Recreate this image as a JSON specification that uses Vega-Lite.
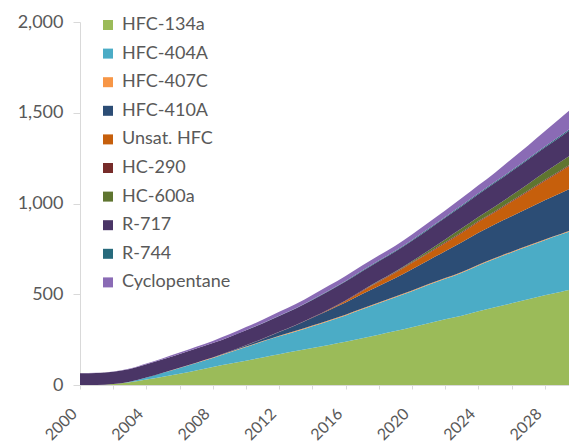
{
  "$schema": "https://vega.github.io/schema/vega-lite/v6.json",
  "autosize": {"type": "none"},
  "width": 489,
  "height": 363,
  "padding": {"left": 80, "top": 22, "right": 0, "bottom": 61},
  "background": "white",
  "title": {"text": "(metric tonnes).", "font": "Liberation Serif", "fontStyle": "italic", "fontWeight": "normal", "fontSize": 21, "color": "#000000", "baseline": "alphabetic", "dx": 129, "dy": 10, "offset": 7},
  "config": {"view": {"stroke": null}, "font": "Lato"},
  "data": {"values": [
    {"year": 2000, "HFC-134a": 0, "HFC-404A": 0, "HFC-407C": 0, "HFC-410A": 0, "Unsat HFC": 0, "HC-290": 0, "HC-600a": 0, "R-717": 65, "R-744": 0, "Cyclopentane": 0},
    {"year": 2001, "HFC-134a": 0, "HFC-404A": 0, "HFC-407C": 0, "HFC-410A": 0, "Unsat HFC": 0, "HC-290": 0, "HC-600a": 0, "R-717": 66, "R-744": 0, "Cyclopentane": 1},
    {"year": 2002, "HFC-134a": 5, "HFC-404A": 0, "HFC-407C": 0, "HFC-410A": 0, "Unsat HFC": 0, "HC-290": 0, "HC-600a": 0, "R-717": 68, "R-744": 0, "Cyclopentane": 2},
    {"year": 2003, "HFC-134a": 15, "HFC-404A": 3, "HFC-407C": 0, "HFC-410A": 0, "Unsat HFC": 0, "HC-290": 0, "HC-600a": 0, "R-717": 70, "R-744": 0, "Cyclopentane": 3},
    {"year": 2004, "HFC-134a": 30, "HFC-404A": 12, "HFC-407C": 0, "HFC-410A": 0, "Unsat HFC": 0, "HC-290": 0, "HC-600a": 0, "R-717": 72, "R-744": 0, "Cyclopentane": 5},
    {"year": 2005, "HFC-134a": 45, "HFC-404A": 22, "HFC-407C": 1, "HFC-410A": 0, "Unsat HFC": 0, "HC-290": 0, "HC-600a": 0, "R-717": 74, "R-744": 0, "Cyclopentane": 6},
    {"year": 2006, "HFC-134a": 62, "HFC-404A": 32, "HFC-407C": 1, "HFC-410A": 0, "Unsat HFC": 0, "HC-290": 0, "HC-600a": 0, "R-717": 76, "R-744": 0, "Cyclopentane": 8},
    {"year": 2007, "HFC-134a": 80, "HFC-404A": 41, "HFC-407C": 2, "HFC-410A": 0, "Unsat HFC": 0, "HC-290": 0, "HC-600a": 0, "R-717": 78, "R-744": 0, "Cyclopentane": 10},
    {"year": 2008, "HFC-134a": 99, "HFC-404A": 50, "HFC-407C": 2, "HFC-410A": 0, "Unsat HFC": 0, "HC-290": 0, "HC-600a": 0, "R-717": 80, "R-744": 0, "Cyclopentane": 12},
    {"year": 2009, "HFC-134a": 117, "HFC-404A": 62, "HFC-407C": 3, "HFC-410A": 2, "Unsat HFC": 0, "HC-290": 0, "HC-600a": 0, "R-717": 81, "R-744": 0, "Cyclopentane": 14},
    {"year": 2010, "HFC-134a": 134, "HFC-404A": 75, "HFC-407C": 3, "HFC-410A": 6, "Unsat HFC": 0, "HC-290": 1, "HC-600a": 0, "R-717": 82, "R-744": 1, "Cyclopentane": 17},
    {"year": 2011, "HFC-134a": 152, "HFC-404A": 87, "HFC-407C": 3, "HFC-410A": 12, "Unsat HFC": 0, "HC-290": 1, "HC-600a": 0, "R-717": 84, "R-744": 1, "Cyclopentane": 19},
    {"year": 2012, "HFC-134a": 170, "HFC-404A": 98, "HFC-407C": 4, "HFC-410A": 20, "Unsat HFC": 0, "HC-290": 2, "HC-600a": 0, "R-717": 86, "R-744": 2, "Cyclopentane": 21},
    {"year": 2013, "HFC-134a": 187, "HFC-404A": 108, "HFC-407C": 4, "HFC-410A": 30, "Unsat HFC": 0, "HC-290": 2, "HC-600a": 0, "R-717": 90, "R-744": 2, "Cyclopentane": 23},
    {"year": 2014, "HFC-134a": 204, "HFC-404A": 120, "HFC-407C": 4, "HFC-410A": 42, "Unsat HFC": 0, "HC-290": 3, "HC-600a": 0, "R-717": 95, "R-744": 3, "Cyclopentane": 25},
    {"year": 2015, "HFC-134a": 221, "HFC-404A": 132, "HFC-407C": 4, "HFC-410A": 55, "Unsat HFC": 3, "HC-290": 3, "HC-600a": 0, "R-717": 100, "R-744": 3, "Cyclopentane": 27},
    {"year": 2016, "HFC-134a": 238, "HFC-404A": 145, "HFC-407C": 4, "HFC-410A": 67, "Unsat HFC": 9, "HC-290": 3, "HC-600a": 0, "R-717": 104, "R-744": 3, "Cyclopentane": 28},
    {"year": 2017, "HFC-134a": 257, "HFC-404A": 160, "HFC-407C": 4, "HFC-410A": 80, "Unsat HFC": 16, "HC-290": 3, "HC-600a": 1, "R-717": 106, "R-744": 4, "Cyclopentane": 28},
    {"year": 2018, "HFC-134a": 277, "HFC-404A": 173, "HFC-407C": 4, "HFC-410A": 92, "Unsat HFC": 22, "HC-290": 4, "HC-600a": 2, "R-717": 108, "R-744": 4, "Cyclopentane": 28},
    {"year": 2019, "HFC-134a": 297, "HFC-404A": 186, "HFC-407C": 4, "HFC-410A": 103, "Unsat HFC": 28, "HC-290": 4, "HC-600a": 4, "R-717": 109, "R-744": 4, "Cyclopentane": 28},
    {"year": 2020, "HFC-134a": 318, "HFC-404A": 198, "HFC-407C": 4, "HFC-410A": 118, "Unsat HFC": 34, "HC-290": 4, "HC-600a": 6, "R-717": 113, "R-744": 4, "Cyclopentane": 30},
    {"year": 2021, "HFC-134a": 340, "HFC-404A": 212, "HFC-407C": 4, "HFC-410A": 132, "Unsat HFC": 38, "HC-290": 4, "HC-600a": 11, "R-717": 116, "R-744": 5, "Cyclopentane": 33},
    {"year": 2022, "HFC-134a": 362, "HFC-404A": 223, "HFC-407C": 4, "HFC-410A": 148, "Unsat HFC": 44, "HC-290": 5, "HC-600a": 16, "R-717": 119, "R-744": 5, "Cyclopentane": 36},
    {"year": 2023, "HFC-134a": 382, "HFC-404A": 237, "HFC-407C": 4, "HFC-410A": 164, "Unsat HFC": 51, "HC-290": 5, "HC-600a": 20, "R-717": 122, "R-744": 5, "Cyclopentane": 40},
    {"year": 2024, "HFC-134a": 406, "HFC-404A": 253, "HFC-407C": 4, "HFC-410A": 176, "Unsat HFC": 59, "HC-290": 5, "HC-600a": 23, "R-717": 125, "R-744": 5, "Cyclopentane": 44},
    {"year": 2025, "HFC-134a": 428, "HFC-404A": 268, "HFC-407C": 4, "HFC-410A": 186, "Unsat HFC": 66, "HC-290": 5, "HC-600a": 27, "R-717": 130, "R-744": 6, "Cyclopentane": 50},
    {"year": 2026, "HFC-134a": 450, "HFC-404A": 280, "HFC-407C": 4, "HFC-410A": 196, "Unsat HFC": 79, "HC-290": 6, "HC-600a": 30, "R-717": 132, "R-744": 6, "Cyclopentane": 62},
    {"year": 2027, "HFC-134a": 472, "HFC-404A": 292, "HFC-407C": 4, "HFC-410A": 206, "Unsat HFC": 92, "HC-290": 6, "HC-600a": 36, "R-717": 134, "R-744": 6, "Cyclopentane": 72},
    {"year": 2028, "HFC-134a": 494, "HFC-404A": 304, "HFC-407C": 4, "HFC-410A": 216, "Unsat HFC": 106, "HC-290": 6, "HC-600a": 42, "R-717": 136, "R-744": 6, "Cyclopentane": 84},
    {"year": 2029, "HFC-134a": 514, "HFC-404A": 316, "HFC-407C": 4, "HFC-410A": 225, "Unsat HFC": 120, "HC-290": 6, "HC-600a": 48, "R-717": 138, "R-744": 7, "Cyclopentane": 97},
    {"year": 2030, "HFC-134a": 535, "HFC-404A": 326, "HFC-407C": 4, "HFC-410A": 235, "Unsat HFC": 135, "HC-290": 6, "HC-600a": 52, "R-717": 143, "R-744": 7, "Cyclopentane": 110}
  ]},
  "transform": [
    {"fold": ["HFC-134a", "HFC-404A", "HFC-407C", "HFC-410A", "Unsat HFC", "HC-290", "HC-600a", "R-717", "R-744", "Cyclopentane"], "as": ["key", "value"]},
    {"calculate": "datum.key == 'Unsat HFC' ? 'Unsat. HFC' : datum.key", "as": "series"},
    {"calculate": "indexof(['HFC-134a','HFC-404A','HFC-407C','HFC-410A','Unsat. HFC','HC-290','HC-600a','R-717','R-744','Cyclopentane'], datum.series)", "as": "ord"}
  ],
  "mark": {"type": "area", "clip": true, "interpolate": "monotone"},
  "encoding": {
    "x": {"field": "year", "type": "quantitative",
      "scale": {"domain": [2000, 2029.46], "nice": false, "zero": false},
      "axis": {"title": null, "values": [2000, 2002, 2004, 2006, 2008, 2010, 2012, 2014, 2016, 2018, 2020, 2022, 2024, 2026, 2028],
        "labelExpr": "datum.value % 4 == 0 ? datum.value + '' : ''",
        "labelAngle": -45, "labelAlign": "right", "labelBaseline": "middle", "labelPadding": 22, "labelOffset": -6,
        "labelFontSize": 16, "labelColor": "#595959", "labelFont": "Lato",
        "domainColor": "#D9D9D9", "tickColor": "#D9D9D9", "tickSize": 4, "grid": false, "labelOverlap": false, "labelFlush": false}},
    "y": {"field": "value", "type": "quantitative", "stack": "zero",
      "scale": {"domain": [0, 2000], "nice": false},
      "axis": {"title": null, "values": [0, 500, 1000, 1500, 2000], "format": ",d",
        "labelFontSize": 18, "labelColor": "#595959", "labelFont": "Lato", "labelPadding": 10,
        "domainColor": "#D9D9D9", "tickColor": "#D9D9D9", "tickSize": 7, "grid": false}},
    "color": {"field": "series", "type": "nominal",
      "scale": {"domain": ["HFC-134a", "HFC-404A", "HFC-407C", "HFC-410A", "Unsat. HFC", "HC-290", "HC-600a", "R-717", "R-744", "Cyclopentane"],
        "range": ["#9BBB59", "#4BACC6", "#F79646", "#2C4D75", "#C65F0C", "#772C2A", "#5F7530", "#4A3566", "#276A7C", "#8A6BB5"]},
      "legend": {"title": null, "orient": "none", "legendX": 19, "legendY": -6,
        "symbolType": "square", "symbolSize": 100, "symbolStrokeWidth": 0, "symbolOpacity": 1,
        "labelFontSize": 18, "labelColor": "#595959", "labelFont": "Lato", "labelOffset": 5, "rowPadding": 10.6}},
    "order": {"field": "ord", "type": "quantitative"}
  }
}
